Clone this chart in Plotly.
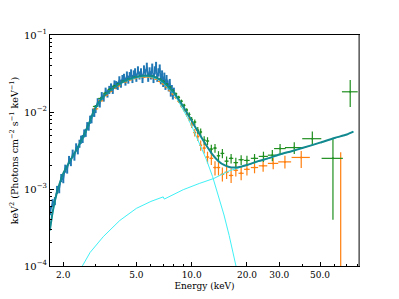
import plotly.graph_objects as go

# ---------------- data ----------------
# total model (keV^2 * photons cm^-2 s^-1 keV^-1)
MODEL_E = [1.69, 1.75, 1.8, 1.87, 2.0, 2.15, 2.3, 2.5, 2.7, 2.92, 3.1, 3.4, 3.8, 4.2, 4.6,
           5.0, 5.5, 6.0, 6.5, 7.0, 7.5, 8.0, 8.5, 9.0, 9.5, 10.0, 11.0, 12.0, 13.0, 14.0,
           15.0, 16.0, 17.0, 18.5, 20.0, 23.0, 26.0, 30.0, 35.0, 40.0, 50.0, 60.0, 70.0, 76.0]
MODEL_F = [2.9e-4, 5.0e-4, 7.0e-4, 1.0e-3, 1.6e-3, 2.2e-3, 2.9e-3, 4.2e-3, 6.2e-3, 1.0e-2,
           1.3e-2, 1.7e-2, 2.1e-2, 2.45e-2, 2.7e-2, 2.85e-2, 2.95e-2, 2.93e-2, 2.75e-2, 2.45e-2,
           2.1e-2, 1.78e-2, 1.45e-2, 1.18e-2, 9.5e-3, 7.7e-3, 5.2e-3, 3.7e-3, 2.8e-3, 2.3e-3,
           2.05e-3, 1.93e-3, 1.9e-3, 1.95e-3, 2.05e-3, 2.3e-3, 2.5e-3, 2.8e-3, 3.1e-3, 3.4e-3,
           4.0e-3, 4.6e-3, 5.1e-3, 5.55e-3]

# thermal component
THERM_E = [1.69, 1.75, 1.8, 1.87, 2.0, 2.15, 2.3, 2.5, 2.7, 2.92, 3.1, 3.4, 3.8, 4.2, 4.6,
           5.0, 5.5, 6.0, 6.5, 7.0, 7.5, 8.0, 8.5, 9.0, 9.5, 10.0, 11.0, 12.0, 13.0, 14.0,
           15.0, 16.0, 17.0, 18.0, 19.0]
THERM_F = [2.9e-4, 5.0e-4, 7.0e-4, 1.0e-3, 1.6e-3, 2.2e-3, 2.85e-3, 4.1e-3, 6.05e-3, 9.8e-3,
           1.28e-2, 1.68e-2, 2.07e-2, 2.41e-2, 2.65e-2, 2.79e-2, 2.89e-2, 2.86e-2, 2.68e-2, 2.37e-2,
           2.02e-2, 1.7e-2, 1.36e-2, 1.08e-2, 8.45e-3, 6.6e-3, 4.0e-3, 2.45e-3, 1.45e-3, 8.3e-4,
           4.6e-4, 2.5e-4, 1.35e-4, 7.0e-5, 4.0e-5]

# power-law component
PL_E = [2.3, 2.54, 2.8, 3.3, 4.06, 5.0, 6.0, 7.0, 7.1, 7.5, 9.0, 11.0, 13.2, 16.0, 18.0,
        20.0, 23.0, 26.0, 30.0, 35.0, 40.0, 50.0, 60.0, 70.0, 76.0]
PL_F = [5.0e-5, 1.0e-4, 1.5e-4, 2.4e-4, 3.9e-4, 5.6e-4, 6.9e-4, 7.9e-4, 7.4e-4, 7.9e-4,
        9.8e-4, 1.18e-3, 1.37e-3, 1.72e-3, 1.88e-3, 2.03e-3, 2.3e-3, 2.5e-3, 2.8e-3, 3.1e-3,
        3.4e-3, 4.0e-3, 4.6e-3, 5.1e-3, 5.55e-3]

# soft X-ray spectrum (blue)
BLUE_E = [1.70, 1.75, 1.80, 1.85, 1.90, 1.95, 2.00, 2.05, 2.10, 2.15, 2.20, 2.25, 2.30, 2.35,
          2.40, 2.45, 2.50, 2.55, 2.60, 2.65, 2.70, 2.75, 2.80, 2.85, 2.90, 2.95, 3.00, 3.08,
          3.16, 3.24, 3.32, 3.40, 3.48, 3.56, 3.64, 3.72, 3.80, 3.88, 3.96, 4.04, 4.12, 4.20,
          4.28, 4.36, 4.44, 4.52, 4.60, 4.68, 4.76, 4.84, 4.92, 5.00, 5.10, 5.20, 5.30, 5.40,
          5.50, 5.60, 5.70, 5.80, 5.90, 6.00, 6.10, 6.20, 6.30, 6.40, 6.50, 6.60, 6.70, 6.80,
          6.90, 7.00, 7.10, 7.20, 7.30, 7.40, 7.50, 7.60, 7.70, 7.80, 7.90, 8.00]
BLUE_F = [5.2e-4, 6.6e-4, 7.0e-4, 9.8e-4, 1.0e-3, 1.4e-3, 1.35e-3, 1.85e-3, 1.8e-3, 2.4e-3,
          2.25e-3, 2.9e-3, 2.65e-3, 3.5e-3, 3.2e-3, 3.9e-3, 4.4e-3, 4.5e-3, 5.3e-3, 5.4e-3,
          6.6e-3, 6.5e-3, 8.0e-3, 8.1e-3, 9.9e-3, 9.8e-3, 1.10e-2, 1.35e-2, 1.30e-2, 1.62e-2,
          1.55e-2, 1.85e-2, 1.75e-2, 1.95e-2, 2.1e-2, 1.95e-2, 2.3e-2, 2.25e-2, 2.2e-2, 2.6e-2,
          2.35e-2, 2.7e-2, 2.8e-2, 2.5e-2, 3.0e-2, 2.65e-2, 2.95e-2, 3.2e-2, 2.7e-2, 3.1e-2,
          3.3e-2, 2.8e-2, 3.5e-2, 3.0e-2, 3.3e-2, 2.7e-2, 3.6e-2, 3.2e-2, 3.9e-2, 2.8e-2,
          3.4e-2, 3.0e-2, 3.8e-2, 2.7e-2, 3.5e-2, 4.0e-2, 2.8e-2, 3.3e-2, 3.7e-2, 2.6e-2,
          3.1e-2, 2.4e-2, 2.9e-2, 2.2e-2, 2.7e-2, 2.3e-2, 2.1e-2, 2.4e-2, 1.8e-2, 2.0e-2,
          1.65e-2, 1.85e-2]
BLUE_REL_ERR = 0.12

# hard X-ray spectrum, detector A (orange)
OR_E = [3.0, 3.2, 3.4, 3.6, 3.8, 4.0, 4.3, 4.6, 4.9, 5.2, 5.5, 5.8, 6.1, 6.4, 6.7, 7.0, 7.3,
        7.6, 7.9, 8.2, 8.5, 8.8, 9.1, 9.4, 9.7, 10.0, 10.4, 10.8, 11.2, 11.7, 12.2, 12.8, 13.4,
        14.0, 14.7, 15.5, 16.4, 17.4, 18.6, 20.0, 22.0, 24.5, 27.8, 32.2, 39.5, 64.8]
OR_F = [1.1e-2, 1.4e-2, 1.65e-2, 1.85e-2, 2.05e-2, 2.2e-2, 2.45e-2, 2.62e-2, 2.75e-2, 2.82e-2,
        2.85e-2, 2.85e-2, 2.8e-2, 2.68e-2, 2.5e-2, 2.33e-2, 2.12e-2, 1.92e-2, 1.72e-2, 1.55e-2,
        1.38e-2, 1.2e-2, 1.07e-2, 9.3e-3, 8.2e-3, 6.8e-3, 5.4e-3, 4.8e-3, 3.7e-3, 3.4e-3,
        2.6e-3, 2.5e-3, 1.9e-3, 1.9e-3, 1.55e-3, 1.65e-3, 1.5e-3, 1.75e-3, 1.6e-3, 1.8e-3,
        1.9e-3, 2.0e-3, 2.15e-3, 2.25e-3, 2.57e-3, 5.0e-5]
OR_EP = [3e-4, 4e-4, 5e-4, 5e-4, 6e-4, 6e-4, 7e-4, 7e-4, 8e-4, 8e-4, 8e-4, 8e-4, 8e-4, 8e-4,
         7e-4, 7e-4, 7e-4, 7e-4, 7e-4, 7e-4, 7e-4, 7e-4, 6e-4, 6e-4, 6e-4, 6e-4, 6e-4, 6e-4,
         5.5e-4, 5e-4, 4.5e-4, 4.5e-4, 4.0e-4, 4.0e-4, 3.5e-4, 3.5e-4, 3.5e-4, 3.5e-4, 3.5e-4,
         3.5e-4, 3.5e-4, 3.5e-4, 4.0e-4, 4.5e-4, 5.5e-4, 2.95e-3]
OR_EM = [3e-4, 4e-4, 5e-4, 5e-4, 6e-4, 6e-4, 7e-4, 7e-4, 8e-4, 8e-4, 8e-4, 8e-4, 8e-4, 8e-4,
         7e-4, 7e-4, 7e-4, 7e-4, 7e-4, 7e-4, 7e-4, 7e-4, 6e-4, 6e-4, 6e-4, 6e-4, 6e-4, 6e-4,
         5.5e-4, 5e-4, 4.5e-4, 4.5e-4, 4.0e-4, 4.0e-4, 3.0e-4, 3.0e-4, 3.0e-4, 3.0e-4, 3.0e-4,
         3.0e-4, 3.0e-4, 3.2e-4, 3.5e-4, 4.0e-4, 7.0e-4, 4.9e-5]
OR_XE = [0.1, 0.1, 0.1, 0.1, 0.1, 0.1, 0.15, 0.15, 0.15, 0.15, 0.15, 0.15, 0.15, 0.15, 0.15,
         0.15, 0.15, 0.15, 0.15, 0.15, 0.15, 0.15, 0.15, 0.15, 0.15, 0.15, 0.2, 0.2, 0.2, 0.25,
         0.25, 0.3, 0.3, 0.3, 0.35, 0.4, 0.45, 0.5, 0.6, 0.7, 1.0, 1.3, 1.8, 2.6, 4.5, 10.0]

# hard X-ray spectrum, detector B (green)
GR_E = [3.0, 3.2, 3.4, 3.6, 3.8, 4.0, 4.3, 4.6, 4.9, 5.2, 5.5, 5.8, 6.1, 6.4, 6.7, 7.0, 7.3,
        7.6, 7.9, 8.2, 8.5, 8.8, 9.1, 9.4, 9.7, 10.0, 10.4, 10.8, 11.2, 11.7, 12.2, 12.8, 13.4,
        14.0, 14.7, 15.5, 16.4, 17.4, 18.6, 20.0, 22.0, 24.6, 27.5, 30.3, 36.2, 45.4, 58.8, 73.0]
GR_F = [1.18e-2, 1.5e-2, 1.75e-2, 1.97e-2, 2.17e-2, 2.32e-2, 2.52e-2, 2.68e-2, 2.82e-2, 2.9e-2,
        2.95e-2, 2.95e-2, 2.9e-2, 2.8e-2, 2.65e-2, 2.5e-2, 2.3e-2, 2.1e-2, 1.9e-2, 1.72e-2,
        1.55e-2, 1.38e-2, 1.22e-2, 1.06e-2, 9.3e-3, 8.0e-3, 7.4e-3, 5.8e-3, 5.5e-3, 4.3e-3,
        4.2e-3, 3.3e-3, 3.4e-3, 2.7e-3, 2.9e-3, 2.3e-3, 2.5e-3, 2.2e-3, 2.4e-3, 2.35e-3,
        2.5e-3, 2.65e-3, 2.75e-3, 3.35e-3, 3.45e-3, 4.5e-3, 2.5e-3, 1.83e-2]
GR_EP = [3e-4, 4e-4, 5e-4, 5e-4, 6e-4, 6e-4, 7e-4, 7e-4, 8e-4, 8e-4, 8e-4, 8e-4, 8e-4, 8e-4,
         7e-4, 7e-4, 7e-4, 7e-4, 7e-4, 7e-4, 7e-4, 7e-4, 6e-4, 6e-4, 6e-4, 6e-4, 6e-4, 6e-4,
         6e-4, 5.5e-4, 5e-4, 4.5e-4, 4.5e-4, 4.0e-4, 4.0e-4, 3.5e-4, 3.5e-4, 3.5e-4, 3.5e-4,
         3.5e-4, 3.5e-4, 4.0e-4, 4.5e-4, 5.0e-4, 6.0e-4, 1.1e-3, 2.0e-3, 7.7e-3]
GR_EM = [3e-4, 4e-4, 5e-4, 5e-4, 6e-4, 6e-4, 7e-4, 7e-4, 8e-4, 8e-4, 8e-4, 8e-4, 8e-4, 8e-4,
         7e-4, 7e-4, 7e-4, 7e-4, 7e-4, 7e-4, 7e-4, 7e-4, 6e-4, 6e-4, 6e-4, 6e-4, 6e-4, 6e-4,
         6e-4, 5.5e-4, 5e-4, 4.5e-4, 4.5e-4, 4.0e-4, 4.0e-4, 3.5e-4, 3.5e-4, 3.5e-4, 3.5e-4,
         3.5e-4, 3.5e-4, 4.0e-4, 4.5e-4, 5.0e-4, 6.0e-4, 8.0e-4, 2.1e-3, 6.7e-3]
GR_XE = [0.1, 0.1, 0.1, 0.1, 0.1, 0.1, 0.15, 0.15, 0.15, 0.15, 0.15, 0.15, 0.15, 0.15, 0.15,
         0.15, 0.15, 0.15, 0.15, 0.15, 0.15, 0.15, 0.15, 0.15, 0.15, 0.15, 0.2, 0.2, 0.2, 0.25,
         0.25, 0.3, 0.3, 0.3, 0.35, 0.4, 0.45, 0.5, 0.6, 0.7, 1.0, 1.4, 1.5, 2.2, 4.0, 5.4, 7.8, 7.2]

X_TICKS = [2.0, 5.0, 10.0, 20.0, 30.0, 50.0]
X_TICK_TEXT = ["2.0", "5.0", "10.0", "20.0", "30.0", "50.0"]
X_MINOR = [3, 4, 6, 7, 8, 9, 40, 60, 70, 80]
Y_TICKS = [1e-4, 1e-3, 1e-2, 1e-1]
Y_TICK_TEXT = ["10<sup>\u22124</sup>", "10<sup>\u22123</sup>", "10<sup>\u22122</sup>", "10<sup>\u22121</sup>"]
Y_MINOR = [m * d for d in (1e-4, 1e-3, 1e-2) for m in range(2, 10)]

# ---------------- figure ----------------
BLUE = "#1f77b4"
ORANGE = "#ff7f0e"
GREEN = "#1f8f1f"
TEAL = "#13898f"
CYAN = "#3ff0f5"

fig = go.Figure()

fig.add_trace(go.Scatter(
    x=BLUE_E, y=BLUE_F, mode="lines",
    line=dict(color=BLUE, width=1.5),
    error_y=dict(type="percent", value=BLUE_REL_ERR * 100, color=BLUE, thickness=2, width=0),
    hoverinfo="skip"))

fig.add_trace(go.Scatter(
    x=OR_E, y=OR_F, mode="markers",
    marker=dict(color=ORANGE, size=2),
    error_y=dict(type="data", array=OR_EP, arrayminus=OR_EM, color=ORANGE, thickness=1.2, width=0),
    error_x=dict(type="data", array=OR_XE, color=ORANGE, thickness=1.2, width=0),
    hoverinfo="skip"))

fig.add_trace(go.Scatter(
    x=GR_E, y=GR_F, mode="markers",
    marker=dict(color=GREEN, size=2),
    error_y=dict(type="data", array=GR_EP, arrayminus=GR_EM, color=GREEN, thickness=1.2, width=0),
    error_x=dict(type="data", array=GR_XE, color=GREEN, thickness=1.2, width=0),
    hoverinfo="skip"))

fig.add_trace(go.Scatter(
    x=THERM_E, y=THERM_F, mode="lines",
    line=dict(color=CYAN, width=1), hoverinfo="skip"))
fig.add_trace(go.Scatter(
    x=PL_E, y=PL_F, mode="lines",
    line=dict(color=CYAN, width=1), hoverinfo="skip"))

fig.add_trace(go.Scatter(
    x=MODEL_E, y=MODEL_F, mode="lines",
    line=dict(color=TEAL, width=2, shape="spline", smoothing=0.6), hoverinfo="skip"))

# the page body adds an 8 px margin, so the figure is 8 px smaller and margins shifted
fig.update_layout(
    width=391, height=291,
    margin=dict(l=42, r=40, t=27, b=33),
    paper_bgcolor="white", plot_bgcolor="white",
    showlegend=False,
    font=dict(family="DejaVu Serif", size=9, color="black"),
    xaxis=dict(
        type="log", range=[0.2287, 1.9112], automargin=False,
        showline=True, linecolor="black", linewidth=1, mirror=True,
        showgrid=False, zeroline=False,
        ticks="inside", ticklen=4, tickcolor="black",
        tickmode="array", tickvals=X_TICKS, ticktext=X_TICK_TEXT,
        tickfont=dict(family="DejaVu Serif", size=9),
        minor=dict(ticks="inside", ticklen=2, tickcolor="black", tickvals=X_MINOR, showgrid=False),
        title=dict(text="Energy (keV)", font=dict(family="DejaVu Serif", size=9), standoff=3),
    ),
    yaxis=dict(
        type="log", range=[-4, -1], automargin=False,
        showline=True, linecolor="black", linewidth=1, mirror=True,
        showgrid=False, zeroline=False,
        ticks="inside", ticklen=4, tickcolor="black",
        tickmode="array", tickvals=Y_TICKS, ticktext=Y_TICK_TEXT,
        tickfont=dict(family="DejaVu Serif", size=10),
        minor=dict(ticks="inside", ticklen=2, tickcolor="black", tickvals=Y_MINOR, showgrid=False),
        title=dict(text="keV<sup>2</sup> (Photons cm<sup>\u22122</sup> s<sup>\u22121</sup> keV<sup>\u22121</sup>)",
                   font=dict(family="DejaVu Serif", size=9.5), standoff=3),
    ),
    shapes=[dict(type="line", xref="paper", yref="paper", x0=1, x1=1, y0=0, y1=1,
                 line=dict(color="#808080", width=1.6))],
)

fig.write_html("out.html")
